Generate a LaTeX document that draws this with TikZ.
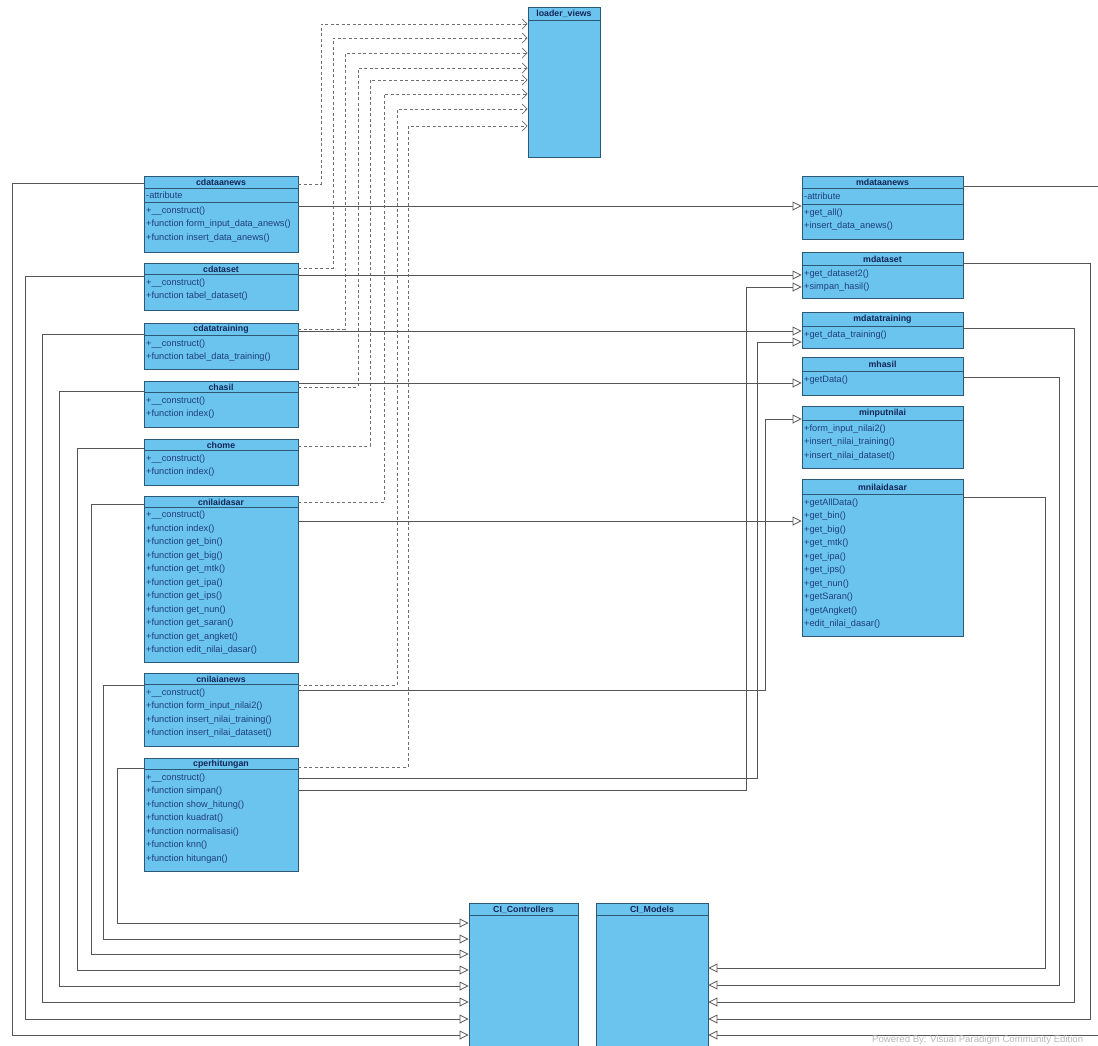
\documentclass[tikz,border=0pt]{standalone}
\usepackage{fontspec}
\setmainfont{Liberation Sans}
\usetikzlibrary{arrows.meta,fit}

\definecolor{classfill}{RGB}{106,196,238}
\definecolor{classedge}{RGB}{45,88,118}
\definecolor{classtext}{RGB}{32,62,125}
\definecolor{titletext}{RGB}{18,38,88}
\definecolor{wire}{RGB}{85,85,85}
\definecolor{depwire}{RGB}{110,110,110}

\tikzset{
  classbox/.style={draw=classedge, fill=classfill, line width=0.9pt, inner sep=0pt, rectangle},
  classrule/.style={draw=classedge, line width=0.9pt},
  classtitle/.style={font=\fontsize{8.8}{10}\selectfont\bfseries, text=titletext, inner sep=0pt},
  members/.style={font=\fontsize{9.2}{13.5}\selectfont, text=classtext, align=left, inner sep=0pt, anchor=north west},
  generalize/.style={draw=wire, line width=0.8pt, -{Triangle[open, fill=white, length=9pt, width=9pt]}},
  usesview/.style={draw=depwire, line width=0.7pt, dash pattern=on 3pt off 2.5pt, -{Straight Barb[length=5pt, width=10pt]}},
}

% #1 name, #2 left, #3 top, #4 right, #5 bottom, #6 title rule, #7 title
\newcommand\umlclassbox[7]{%
  \node[classbox, fit={(#2,#3)(#4,#5)}] (#1) {};
  \draw[classrule] (#2,#6) -- (#4,#6);
  \node[classtitle] (#1-title) at ({(#2+#4)/2},{(#3+#6)/2+0.5}) {#7};
}

\begin{document}
\begin{tikzpicture}[x=1pt, y=-1pt]
\useasboundingbox (0,0) rectangle (1098,1045);
\fill[white] (0,0) rectangle (1098,1045);
\clip (0,0) rectangle (1098,1045);

% ---------- views loader and framework base classes ----------
\umlclassbox{loaderviews}{528}{7}{600}{157}{20}{loader\_views}
\umlclassbox{cicontrollers}{469}{903}{578}{1070}{915}{CI\_Controllers}
\umlclassbox{cimodels}{596}{903}{708}{1070}{915}{CI\_Models}

% ---------- controllers ----------
\umlclassbox{cdataanews}{144}{176}{298}{252}{188}{cdataanews}
\draw[classrule] (144,202) -- (298,202);
\node[members] (cdataanews-attr) at (146,191.5) {-attribute};
\node[members] (cdataanews-ops) at (146,206.5) {+\_\_construct()\\+function form\_input\_data\_anews()\\+function insert\_data\_anews()};

\umlclassbox{cdataset}{144}{263}{298}{310}{274}{cdataset}
\node[members] (cdataset-ops) at (146,278.5) {+\_\_construct()\\+function tabel\_dataset()};

\umlclassbox{cdatatraining}{144}{323}{298}{369}{335}{cdatatraining}
\node[members] (cdatatraining-ops) at (146,339.5) {+\_\_construct()\\+function tabel\_data\_training()};

\umlclassbox{chasil}{144}{381}{298}{427}{392}{chasil}
\node[members] (chasil-ops) at (146,396.5) {+\_\_construct()\\+function index()};

\umlclassbox{chome}{144}{439}{298}{485}{450}{chome}
\node[members] (chome-ops) at (146,454.5) {+\_\_construct()\\+function index()};

\umlclassbox{cnilaidasar}{144}{496}{298}{662}{507}{cnilaidasar}
\node[members] (cnilaidasar-ops) at (146,511) {+\_\_construct()\\+function index()\\+function get\_bin()\\+function get\_big()\\+function get\_mtk()\\+function get\_ipa()\\+function get\_ips()\\+function get\_nun()\\+function get\_saran()\\+function get\_angket()\\+function edit\_nilai\_dasar()};

\umlclassbox{cnilaianews}{144}{673}{298}{746}{684}{cnilaianews}
\node[members] (cnilaianews-ops) at (146,688.5) {+\_\_construct()\\+function form\_input\_nilai2()\\+function insert\_nilai\_training()\\+function insert\_nilai\_dataset()};

\umlclassbox{cperhitungan}{144}{758}{298}{871}{769}{cperhitungan}
\node[members] (cperhitungan-ops) at (146,773.5) {+\_\_construct()\\+function simpan()\\+function show\_hitung()\\+function kuadrat()\\+function normalisasi()\\+function knn()\\+function hitungan()};

% ---------- models ----------
\umlclassbox{mdataanews}{802}{176}{963}{239}{188}{mdataanews}
\draw[classrule] (802,204) -- (963,204);
\node[members] (mdataanews-attr) at (804,192.5) {-attribute};
\node[members] (mdataanews-ops) at (804,208.5) {+get\_all()\\+insert\_data\_anews()};

\umlclassbox{mdataset}{802}{252}{963}{298}{265}{mdataset}
\node[members] (mdataset-ops) at (804,269.5) {+get\_dataset2()\\+simpan\_hasil()};

\umlclassbox{mdatatraining}{802}{312}{963}{348}{326}{mdatatraining}
\node[members] (mdatatraining-ops) at (804,330.5) {+get\_data\_training()};

\umlclassbox{mhasil}{802}{357}{963}{395}{371}{mhasil}
\node[members] (mhasil-ops) at (804,375.5) {+getData()};

\umlclassbox{minputnilai}{802}{406}{963}{468}{420}{minputnilai}
\node[members] (minputnilai-ops) at (804,424.5) {+form\_input\_nilai2()\\+insert\_nilai\_training()\\+insert\_nilai\_dataset()};

\umlclassbox{mnilaidasar}{802}{479}{963}{636}{494}{mnilaidasar}
\node[members] (mnilaidasar-ops) at (804,498.5) {+getAllData()\\+get\_bin()\\+get\_big()\\+get\_mtk()\\+get\_ipa()\\+get\_ips()\\+get\_nun()\\+getSaran()\\+getAngket()\\+edit\_nilai\_dasar()};

% ---------- controllers use the views loader ----------
\draw[usesview] (cdataanews.east |- 0,184) -| (321,24) -- (loaderviews.west |- 0,24);
\draw[usesview] (cdataset.east |- 0,268) -| (333,38) -- (loaderviews.west |- 0,38);
\draw[usesview] (cdatatraining.east |- 0,329) -| (345,53) -- (loaderviews.west |- 0,53);
\draw[usesview] (chasil.east |- 0,387) -| (358,68) -- (loaderviews.west |- 0,68);
\draw[usesview] (chome.east |- 0,446) -| (370,80) -- (loaderviews.west |- 0,80);
\draw[usesview] (cnilaidasar.east |- 0,502) -| (384,94) -- (loaderviews.west |- 0,94);
\draw[usesview] (cnilaianews.east |- 0,685) -| (397,109) -- (loaderviews.west |- 0,109);
\draw[usesview] (cperhitungan.east |- 0,767) -| (408,126) -- (loaderviews.west |- 0,126);

% ---------- controllers to their models ----------
\draw[generalize] (cdataanews.east |- 0,206) -- (mdataanews.west |- 0,206);
\draw[generalize] (cdataset.east |- 0,275) -- (mdataset.west |- 0,275);
\draw[generalize] (cdatatraining.east |- 0,331) -- (mdatatraining.west |- 0,331);
\draw[generalize] (chasil.east |- 0,383) -- (mhasil.west |- 0,383);
\draw[generalize] (cnilaidasar.east |- 0,521) -- (mnilaidasar.west |- 0,521);
\draw[generalize] (cnilaianews.east |- 0,690) -| (765,419) -- (minputnilai.west |- 0,419);
\draw[generalize] (cperhitungan.east |- 0,778) -| (757,342) -- (mdatatraining.west |- 0,342);
\draw[generalize] (cperhitungan.east |- 0,790) -| (746,287) -- (mdataset.west |- 0,287);

% ---------- controllers extend CI_Controllers ----------
\draw[generalize] (cdataanews.west |- 0,183) -| (12,1035) -- (cicontrollers.west |- 0,1035);
\draw[generalize] (cdataset.west |- 0,276) -| (25,1019) -- (cicontrollers.west |- 0,1019);
\draw[generalize] (cdatatraining.west |- 0,334) -| (42,1002) -- (cicontrollers.west |- 0,1002);
\draw[generalize] (chasil.west |- 0,391) -| (59,986) -- (cicontrollers.west |- 0,986);
\draw[generalize] (chome.west |- 0,448) -| (77,970) -- (cicontrollers.west |- 0,970);
\draw[generalize] (cnilaidasar.west |- 0,504) -| (91,954) -- (cicontrollers.west |- 0,954);
\draw[generalize] (cnilaianews.west |- 0,685) -| (103,939) -- (cicontrollers.west |- 0,939);
\draw[generalize] (cperhitungan.west |- 0,768) -| (117,923) -- (cicontrollers.west |- 0,923);

% ---------- models extend CI_Models ----------
\draw[generalize] (mdataanews.east |- 0,186) -| (1110,1035) -- (cimodels.east |- 0,1035);
\draw[generalize] (mdataset.east |- 0,263) -| (1090,1019) -- (cimodels.east |- 0,1019);
\draw[generalize] (mdatatraining.east |- 0,328) -| (1074,1002) -- (cimodels.east |- 0,1002);
\draw[generalize] (mhasil.east |- 0,377) -| (1059,985) -- (cimodels.east |- 0,985);
\draw[generalize] (mnilaidasar.east |- 0,497) -| (1045,968) -- (cimodels.east |- 0,968);

% ---------- tool credit ----------
\node[anchor=west, text=black!28, font=\fontsize{9.6}{10}\selectfont, inner sep=0pt] (credit) at (872,1040) {Powered By: Visual Paradigm Community Edition};
\end{tikzpicture}
\end{document}
